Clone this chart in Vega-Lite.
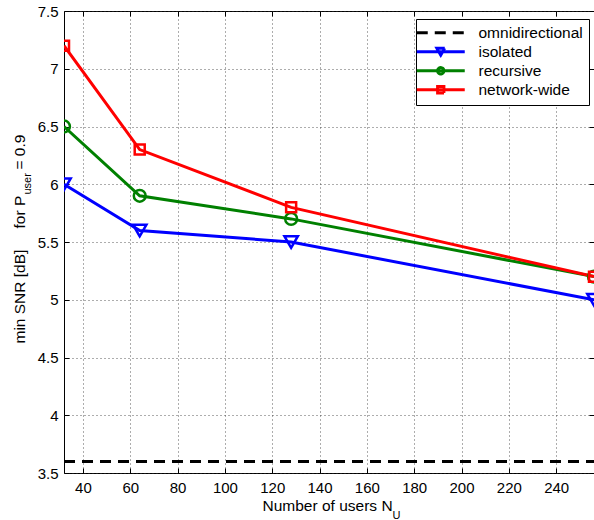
{
  "$schema": "https://vega.github.io/schema/vega-lite/v6.json",
  "width": 530,
  "height": 462,
  "autosize": {"type": "none"},
  "padding": {"left": 64, "top": 11, "right": 0, "bottom": 47},
  "background": "white",
  "config": {
    "font": "Liberation Sans",
    "view": {"stroke": "black", "strokeWidth": 1},
    "axis": {
      "labelFont": "Liberation Sans",
      "titleFont": "Liberation Sans",
      "labelFontSize": 15,
      "titleFontSize": 15.5,
      "labelColor": "black",
      "titleColor": "black",
      "titleFontWeight": "normal",
      "tickColor": "black",
      "domain": false,
      "grid": false
    }
  },
  "data": {
    "values": [
      {"series": "isolated", "users": 32, "snr": 6.0},
      {"series": "isolated", "users": 64, "snr": 5.6},
      {"series": "isolated", "users": 128, "snr": 5.5},
      {"series": "isolated", "users": 256, "snr": 5.0},
      {"series": "recursive", "users": 32, "snr": 6.5},
      {"series": "recursive", "users": 64, "snr": 5.9},
      {"series": "recursive", "users": 128, "snr": 5.7},
      {"series": "recursive", "users": 256, "snr": 5.2},
      {"series": "network-wide", "users": 32, "snr": 7.2},
      {"series": "network-wide", "users": 64, "snr": 6.3},
      {"series": "network-wide", "users": 128, "snr": 5.8},
      {"series": "network-wide", "users": 256, "snr": 5.2},
      {"series": "omnidirectional", "users": 32, "snr": 3.6},
      {"series": "omnidirectional", "users": 256, "snr": 3.6}
    ]
  },
  "resolve": {"axis": {"x": "independent", "y": "independent"}},
  "layer": [
    {
      "transform": [{"filter": "datum.series !== 'omnidirectional'"}],
      "mark": {"type": "line", "strokeWidth": 3, "clip": true},
      "encoding": {
        "x": {
          "field": "users", "type": "quantitative",
          "scale": {"domain": [32, 256], "nice": false, "zero": false},
          "axis": {
            "orient": "bottom",
            "values": [40, 60, 80, 100, 120, 140, 160, 180, 200, 220, 240],
            "grid": true, "gridDash": [1, 3], "gridColor": "#333333", "gridOpacity": 0.8,
            "tickSize": -5, "labelPadding": 12,
            "title": "Number of users N",
            "titleAlign": "left", "titleBaseline": "alphabetic", "titleAngle": 0,
            "titleX": 198, "titleY": 37
          }
        },
        "y": {
          "field": "snr", "type": "quantitative",
          "scale": {"domain": [3.5, 7.5], "nice": false, "zero": false},
          "axis": {
            "orient": "left",
            "values": [3.5, 4, 4.5, 5, 5.5, 6, 6.5, 7, 7.5],
            "format": "~g",
            "grid": true, "gridDash": [1, 3], "gridColor": "#333333", "gridOpacity": 0.8,
            "tickSize": -5, "labelPadding": 11,
            "title": "min SNR [dB]",
            "titleAngle": -90, "titleAlign": "left", "titleBaseline": "alphabetic",
            "titleX": -40, "titleY": 332
          }
        },
        "color": {
          "field": "series", "type": "nominal",
          "scale": {
            "domain": ["omnidirectional", "isolated", "recursive", "network-wide"],
            "range": ["#000000", "#0000ff", "#008000", "#ff0000"]
          },
          "legend": {
            "title": null,
            "orient": "none",
            "legendX": 352,
            "legendY": 8,
            "padding": 6,
            "fillColor": "white",
            "strokeColor": "black",
            "labelFont": "Liberation Sans",
            "labelFontSize": 15.5,
            "labelColor": "black",
            "symbolSize": 100,
            "symbolOffset": 11,
            "labelOffset": 30,
            "rowPadding": 0,
            "encode": {
              "symbols": {
                "update": {
                  "shape": {"signal": "datum.value === 'omnidirectional' ? 'M-4.8,0H4.8' : datum.value === 'isolated' ? 'M-4.8,0H4.8M-0.8,-0.7L0.8,-0.7L0,0.7Z' : datum.value === 'recursive' ? 'M-4.8,0H4.8M0.65,0A0.65,0.65,0,1,1,-0.65,0A0.65,0.65,0,1,1,0.65,0' : 'M-4.8,0H4.8M-0.65,-0.65H0.65V0.65H-0.65Z'"},
                  "strokeDash": {"signal": "datum.value === 'omnidirectional' ? [11, 7] : [1, 0]"},
                  "stroke": {"signal": "datum.value === 'omnidirectional' ? '#000000' : datum.value === 'isolated' ? '#0000ff' : datum.value === 'recursive' ? '#008000' : '#ff0000'"},
                  "fill": {"value": "transparent"},
                  "strokeWidth": {"value": 2.8},
                  "size": {"value": 100},
                  "opacity": {"value": 1}
                }
              }
            }
          }
        }
      }
    },
    {
      "transform": [{"filter": "datum.series !== 'omnidirectional'"}],
      "mark": {"type": "point", "filled": false, "strokeWidth": 2.5, "opacity": 1, "clip": true},
      "encoding": {
        "x": {
          "field": "users", "type": "quantitative",
          "axis": {
            "orient": "bottom", "labels": false, "ticks": false, "grid": false,
            "title": "U", "titleFontSize": 11,
            "titleAlign": "left", "titleBaseline": "alphabetic", "titleAngle": 0,
            "titleX": 328, "titleY": 45
          }
        },
        "y": {
          "field": "snr", "type": "quantitative",
          "axis": {
            "orient": "left", "labels": false, "ticks": false, "grid": false,
            "title": "for P",
            "titleAngle": -90, "titleAlign": "left", "titleBaseline": "alphabetic",
            "titleX": -40, "titleY": 217
          }
        },
        "color": {"field": "series", "type": "nominal"},
        "shape": {
          "field": "series", "type": "nominal",
          "scale": {"domain": ["isolated", "recursive", "network-wide"], "range": ["triangle-down", "circle", "square"]},
          "legend": null
        },
        "size": {
          "field": "series", "type": "nominal",
          "scale": {"domain": ["isolated", "recursive", "network-wide"], "range": [180, 100, 90]},
          "legend": null
        }
      }
    },
    {
      "transform": [{"filter": "datum.series === 'omnidirectional'"}],
      "mark": {"type": "line", "strokeWidth": 3, "strokeDash": [11, 7], "clip": true},
      "encoding": {
        "x": {
          "field": "users", "type": "quantitative",
          "axis": {
            "orient": "top", "labels": false, "grid": false, "title": null,
            "values": [40, 60, 80, 100, 120, 140, 160, 180, 200, 220, 240],
            "tickSize": -5
          }
        },
        "y": {
          "field": "snr", "type": "quantitative",
          "axis": {
            "orient": "left", "labels": false, "ticks": false, "grid": false,
            "title": "user", "titleFontSize": 11,
            "titleAngle": -90, "titleAlign": "left", "titleBaseline": "alphabetic",
            "titleX": -34, "titleY": 183
          }
        },
        "color": {"field": "series", "type": "nominal"}
      }
    },
    {
      "transform": [{"filter": "datum.series === 'omnidirectional'"}],
      "mark": {"type": "point", "opacity": 0},
      "encoding": {
        "x": {"field": "users", "type": "quantitative", "axis": null},
        "y": {
          "field": "snr", "type": "quantitative",
          "axis": {
            "orient": "left", "labels": false, "ticks": false, "grid": false,
            "title": "= 0.9",
            "titleAngle": -90, "titleAlign": "left", "titleBaseline": "alphabetic",
            "titleX": -40, "titleY": 158
          }
        }
      }
    },
    {
      "transform": [{"filter": "datum.series === 'omnidirectional'"}],
      "mark": {"type": "point", "opacity": 0},
      "encoding": {
        "x": {"field": "users", "type": "quantitative", "axis": null},
        "y": {
          "field": "snr", "type": "quantitative",
          "axis": {
            "orient": "right", "labels": false, "grid": false, "title": null,
            "values": [3.5, 4, 4.5, 5, 5.5, 6, 6.5, 7, 7.5],
            "tickSize": -5
          }
        }
      }
    }
  ]
}
